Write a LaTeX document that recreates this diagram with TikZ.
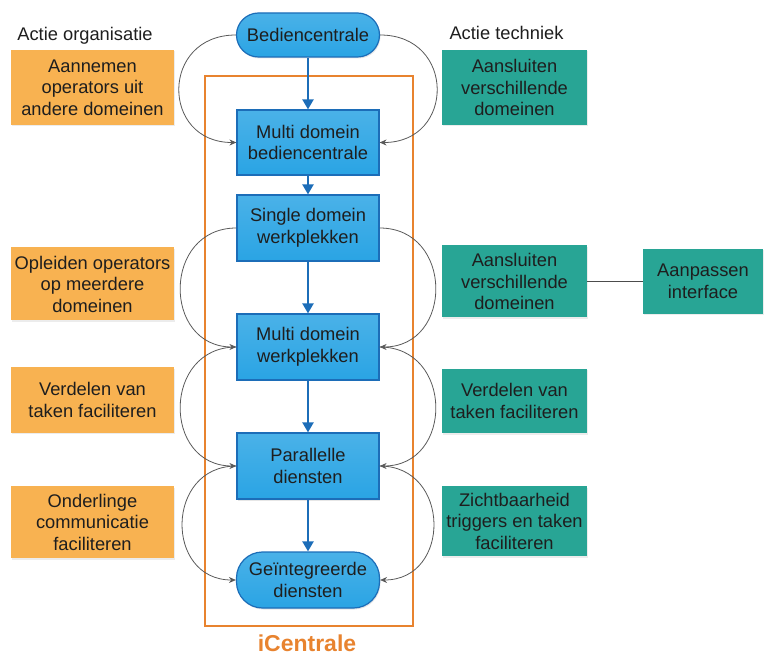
\documentclass[tikz,border=0pt]{standalone}
\usepackage{fontspec}
\setmainfont{Liberation Sans}
\usetikzlibrary{arrows.meta,shadows}
\definecolor{blauw}{HTML}{2AA4E4}
\definecolor{blauwdonker}{HTML}{1C6DB8}
\definecolor{oranje}{HTML}{F8B251}
\definecolor{groen}{HTML}{28A595}
\definecolor{kader}{HTML}{E8832F}
\definecolor{tekst}{HTML}{1E1E1E}

\begin{document}
\begin{tikzpicture}
  [x = 1pt, y = -1pt,
   every node/.style = {font = \fontsize{18.3}{21.5}\selectfont, text = tekst, align = center, inner sep = 0pt},
   stap/.style = {draw = blauwdonker, line width = 1.2pt, top color = blauw!85!white, bottom color = blauw,
                  minimum width = 142pt, minimum height = 66pt,
                  drop shadow = {opacity = .2, shadow xshift = 1pt, shadow yshift = -1.5pt}},
   eind/.style = {stap, minimum height = 44pt, rounded corners = 22pt},
   org/.style = {fill = oranje, minimum width = 163pt,
                 drop shadow = {opacity = .15, shadow xshift = 1pt, shadow yshift = -1.5pt}},
   tech/.style = {fill = groen, minimum width = 145pt,
                  drop shadow = {opacity = .15, shadow xshift = 1pt, shadow yshift = -1.5pt}},
   pijl/.style = {draw = blauwdonker, line width = 2.2pt, -{Triangle[length = 10pt, width = 11pt]}},
   boog/.style = {draw = black!65, line width = .8pt, -{Stealth[length = 7pt, width = 6pt]}}]
  \useasboundingbox (0,0) rectangle (764,655);

  \node (kader) at (309,351) [draw = kader, line width = 2.5pt, minimum width = 208pt, minimum height = 550pt] {};
  \node (naam) at (307,643) [font = \fontsize{23}{26}\selectfont\bfseries, text = kader] {iCentrale};

  \node (bc) at (308,35) [eind, minimum width = 143pt] {Bediencentrale};
  \node (mdb) at (308,142.5) [stap, minimum height = 65pt] {Multi domein\\bediencentrale};
  \node (sdw) at (308,228) [stap] {Single domein\\werkplekken};
  \node (mdw) at (308,347) [stap] {Multi domein\\werkplekken};
  \node (pd) at (308,466) [stap] {Parallelle\\diensten};
  \node (gd) at (308,580) [eind, minimum width = 143pt, minimum height = 56pt, rounded corners = 26pt] {Geïntegreerde\\diensten};

  \node (lorg) at (85,41) [anchor = base] {Actie organisatie};
  \node (ltech) at (506.5,40) [anchor = base] {Actie techniek};

  \node (org1) at (92.5,87.5) [org, minimum height = 75pt] {Aannemen\\operators uit\\andere domeinen};
  \node (org2) at (92.5,284) [org, minimum height = 73pt] {Opleiden operators\\op meerdere\\domeinen};
  \node (org3) at (92.5,400) [org, minimum height = 65pt] {Verdelen van\\taken faciliteren};
  \node (org4) at (92.5,522) [org, minimum height = 72pt] {Onderlinge\\communicatie\\faciliteren};

  \node (tech1) at (514.5,87.5) [tech, minimum height = 75pt] {Aansluiten\\verschillende\\domeinen};
  \node (tech2) at (514.5,281.5) [tech, minimum height = 72pt] {Aansluiten\\verschillende\\domeinen};
  \node (tech3) at (514.5,401) [tech, minimum height = 64pt] {Verdelen van\\taken faciliteren};
  \node (tech4) at (514.5,521) [tech, minimum height = 70pt] {Zichtbaarheid\\triggers en taken\\faciliteren};
  \node (ai) at (703,281.5) [tech, minimum width = 120pt, minimum height = 65pt] {Aanpassen\\interface};

  \draw[draw = black!70, line width = 1.2pt] (tech2) -- (ai);

  \foreach \a/\b in {bc/mdb, mdb/sdw, sdw/mdw, mdw/pd, pd/gd}
    \draw[pijl] (\a) -- (\b);

  \draw[boog] (bc.west) to[out = 180, in = 180, looseness = 1.8] (mdb.west);
  \draw[boog] (bc.east) to[out = 0, in = 0, looseness = 1.8] (mdb.east);
  \foreach \a/\b in {sdw/mdw, mdw/pd, pd/gd}{
    \draw[boog] (\a.west) to[out = 180, in = 180, looseness = 1.6] (\b.west);
    \draw[boog] (\a.east) to[out = 0, in = 0, looseness = 1.6] (\b.east);
  }
\end{tikzpicture}
\end{document}
